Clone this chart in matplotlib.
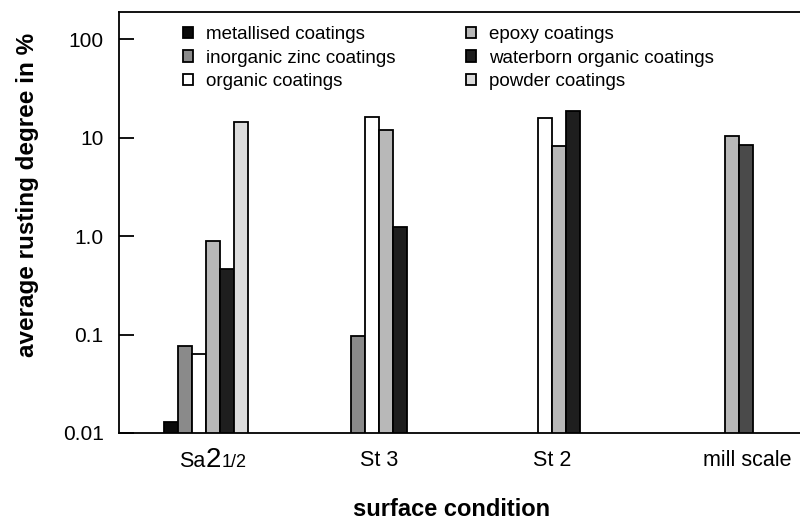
import numpy as np
import matplotlib
matplotlib.use("Agg")
import matplotlib.pyplot as plt
from matplotlib.transforms import ScaledTranslation, blended_transform_factory

plt.rcParams['font.family'] = ['Liberation Sans', 'DejaVu Sans']

categories = ["Sa 2 1/2", "St 3", "St 2", "mill scale"]
series_names = ["metallised coatings", "inorganic zinc coatings", "organic coatings",
                "epoxy coatings", "waterborn organic coatings", "powder coatings"]
nan = np.nan
metallised = [0.013, nan, nan, nan]
inorganic_zinc = [0.077, 0.096, nan, nan]
organic = [0.063, 16.4, 16.0, nan]
epoxy = [0.90, 12.1, 8.2, 10.5]
waterborn = [0.46, 1.23, 18.9, 8.5]
powder = [14.6, nan, nan, nan]
values = [metallised, inorganic_zinc, organic, epoxy, waterborn, powder]
colors = ["#0a0a0a", "#8a8a8a", "#ffffff", "#b8b8b8", "#1e1e1e", "#dcdcdc"]
ytick_vals = [0.01, 0.1, 1, 10, 100]
ytick_labels = ["0.01", "0.1", "1.0", "10", "100"]

fig = plt.figure(figsize=(8.0, 5.22), dpi=100)
ax = fig.add_axes([119/800, 1 - 433/522, 681/800, 421/522])

x = np.arange(len(categories))
w = 0.081
bars_all = []
for i, (name, vals, c) in enumerate(zip(series_names, values, colors)):
    v = np.array(vals, dtype=float)
    b = ax.bar(x + (i - 2.5) * w, np.nan_to_num(v, nan=0.0), width=w, bottom=0.0,
               color=c, edgecolor="black", linewidth=1.3, label=name)
    for rect, val in zip(b, v):
        if np.isnan(val):
            rect.set_visible(False)
    bars_all.append(b)
# mill scale waterborn bar drawn in darker grey in the reference
bars_all[4][3].set_facecolor("#4a4a4a")

ax.set_yscale("log")
ax.set_ylim(0.01, 190)
ax.set_xlim(-0.503, 3.434)
ax.set_yticks(ytick_vals)
ax.set_yticklabels(ytick_labels)
ax.minorticks_off()
ax.tick_params(axis="y", direction="in", length=11, width=1.3, pad=11, labelsize=15)
ax.tick_params(axis="x", length=0, pad=12, labelsize=15.5)

ax.set_xticks(x)
ax.set_xticklabels(["", categories[1], categories[2], categories[3]])
lab = ax.get_xticklabels()[3]
lab.set_transform(lab.get_transform() + ScaledTranslation(22/100, 0, fig.dpi_scale_trans))

# composite "Sa 2 1/2" label
tr = blended_transform_factory(ax.transData, ax.transAxes)
yoff = -34 * 0.72
ax.annotate("Sa", xy=(0, 0), xycoords=tr, xytext=(-1 * 0.72, yoff), textcoords="offset points",
            ha="right", va="baseline", fontsize=15.5)
ax.annotate("2", xy=(0, 0), xycoords=tr, xytext=(0 * 0.72, yoff), textcoords="offset points",
            ha="left", va="baseline", fontsize=20)
ax.annotate("1/2", xy=(0, 0), xycoords=tr, xytext=(16 * 0.72, yoff), textcoords="offset points",
            ha="left", va="baseline", fontsize=13)

for s in ["left", "bottom", "top"]:
    ax.spines[s].set_linewidth(1.3)
ax.spines["right"].set_visible(False)

ax.set_ylabel("average rusting degree in %", fontsize=17.5, fontweight="bold")
ax.yaxis.set_label_coords(-0.118, 0.565)
ax.set_xlabel("surface condition", fontsize=17, fontweight="bold")
ax.xaxis.set_label_coords(0.489, -0.155)

ax.legend(ncol=2, loc="upper left", bbox_to_anchor=(0.094, 0.967), frameon=False,
          fontsize=13.5, handlelength=0.55, handleheight=0.55, handletextpad=0.7,
          columnspacing=3.72, labelspacing=0.36, borderpad=0, borderaxespad=0)

fig.savefig("out.png", dpi=100)
